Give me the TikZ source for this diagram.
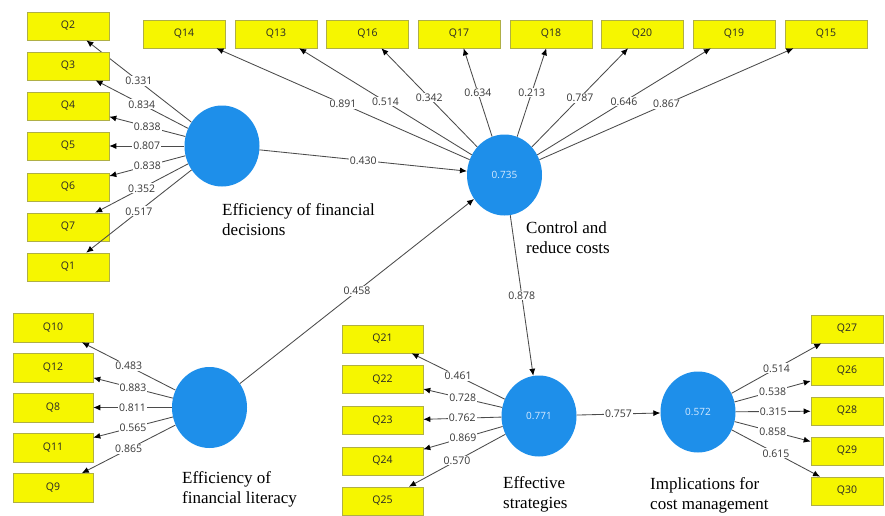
\documentclass[tikz,border=0pt]{standalone}
\usepackage{fontspec}
\setmainfont{Liberation Serif}
\newfontfamily\qf{Open Sans}
\usetikzlibrary{shapes.geometric,arrows.meta}
\definecolor{lv}{RGB}{30,143,234}
\definecolor{qy}{RGB}{246,246,0}
\definecolor{qb}{RGB}{175,175,70}
\definecolor{ln}{RGB}{75,75,75}
\definecolor{lt}{RGB}{55,55,55}
\definecolor{lvt}{RGB}{215,235,255}
\tikzset{
  qbox/.style={draw=qb, line width=0.6pt, fill=qy, minimum width=82pt, minimum height=28pt,
    inner sep=0pt, font=\qf\fontsize{10.5}{12}\selectfont, text=black!85},
  lvar/.style={ellipse, fill=lv, draw=none, minimum width=75pt, minimum height=81pt,
    inner sep=0pt, font=\qf\fontsize{10}{12}\selectfont, text=lvt},
  link/.style={draw=ln, line width=0.85pt, -{Latex[length=7pt,width=6pt,color=black]}},
  lbl/.style={fill=white, inner sep=1pt, font=\qf\fontsize{10.5}{11}\selectfont, text=lt},
  lab/.style={anchor=west, align=left, inner sep=0pt, font=\fontsize{17}{20}\selectfont}
}
\begin{document}
\begin{tikzpicture}[x=1pt,y=-1pt]
\useasboundingbox (0,0) rectangle (885,515);
\fill[white] (0,0) rectangle (885,515);
\clip (0,0) rectangle (885,515);

% latent variables
\node[lvar] (cfd) at (222,146) {};
\node[lvar] (ccr) at (504.5,175) {0.735};
\node[lvar] (cfl) at (209.5,407.5) {};
\node[lvar] (ces) at (539,416) {0.771};
\node[lvar] (ccm) at (698,412) {0.572};

% labels
\node[lab] (tfd) at (222,220) {Efficiency of financial\\decisions};
\node[lab] (tcr) at (526,238) {Control and\\reduce costs};
\node[lab] (tfl) at (182,489) {Efficiency of\\financial literacy};
\node[lab] (tes) at (503,494) {Effective\\strategies};
\node[lab] (tcm) at (650,495) {Implications for\\cost management};

% top-left indicators
\foreach \n/\yy/\v in {2/26/0.331, 3/66/0.834, 4/106/0.838, 5/146/0.807, 6/187/0.838, 7/227/0.352, 1/267/0.517}{
  \node[qbox] (q\n) at (68,\yy) {Q\n};
  \draw[link] (cfd) -- node[lbl] {\v} (q\n);
}

% top row indicators
\foreach \n/\xx/\v in {14/184/0.891, 13/276/0.514, 16/367.5/0.342, 17/459/0.634, 18/551/0.213, 20/642/0.787, 19/734/0.646, 15/826/0.867}{
  \node[qbox] (q\n) at (\xx,34) {Q\n};
  \draw[link] (ccr) -- node[lbl] {\v} (q\n);
}

% bottom-left indicators
\foreach \n/\yy/\v in {10/327.5/0.483, 12/367.5/0.883, 8/407.5/0.811, 11/448/0.565, 9/488/0.865}{
  \node[qbox, minimum width=80pt, minimum height=29pt] (q\n) at (53,\yy) {Q\n};
  \draw[link] (cfl) -- node[lbl] {\v} (q\n);
}

% bottom-middle indicators
\foreach \n/\yy/\v in {21/339/0.461, 22/379.5/0.728, 23/420.5/0.762, 24/461/0.869, 25/501/0.570}{
  \node[qbox, minimum width=81pt] (q\n) at (382.5,\yy) {Q\n};
  \draw[link] (ces) -- node[lbl] {\v} (q\n);
}

% bottom-right indicators
\foreach \n/\yy/\v in {27/329/0.514, 26/371/0.538, 28/411/0.315, 29/451/0.858, 30/491/0.615}{
  \node[qbox, minimum width=72pt] (q\n) at (847,\yy) {Q\n};
  \draw[link] (ccm) -- node[lbl] {\v} (q\n);
}

% structural paths
\draw[link] (cfd) -- node[lbl] {0.430} (ccr);
\draw[link] (cfl) -- node[lbl] {0.458} (ccr);
\draw[link] (ccr) -- node[lbl] {0.878} (ces);
\draw[link] (ces) -- node[lbl] {0.757} (ccm);
\end{tikzpicture}
\end{document}
